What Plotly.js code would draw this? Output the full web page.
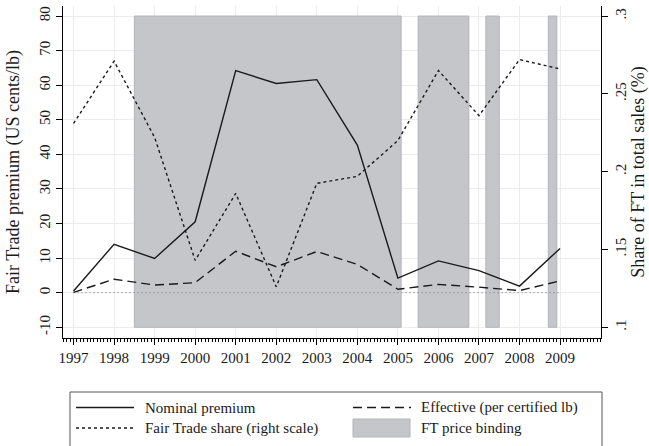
<!DOCTYPE html>
<html>
<head>
<meta charset="utf-8">
<script src="https://cdn.plot.ly/plotly-3.0.1.min.js"></script>
<style>
  html, body { margin: 0; padding: 0; background: #fff; }
  #chart { width: 649px; height: 446px; }
</style>
</head>
<body>
<div id="chart"></div>
<script>
// ---- Data ----
const years = [1997, 1998, 1999, 2000, 2001, 2002, 2003, 2004, 2005, 2006, 2007, 2008, 2009];
const nominalPremium = [0.5, 14.0, 9.9, 20.5, 64.2, 60.5, 61.6, 42.7, 4.2, 9.2, 6.4, 1.9, 12.8];
const effectivePremium = [0.1, 3.9, 2.2, 2.9, 12.0, 7.5, 11.9, 8.2, 1.0, 2.4, 1.6, 0.6, 3.4];
const fairTradeShare = [0.231, 0.271, 0.222, 0.143, 0.186, 0.126, 0.1925, 0.197, 0.220, 0.265, 0.236, 0.272, 0.266];
const bindingStart = [1998.5, 2005.5, 2007.17, 2008.71];
const bindingEnd = [2005.08, 2006.75, 2007.5, 2008.92];
const bindingBand = [-10, 80];
const leftTicks = [-10, 0, 10, 20, 30, 40, 50, 60, 70, 80];
const leftTickLabels = ['-10', '0', '10', '20', '30', '40', '50', '60', '70', '80'];
const rightTicks = [0.1, 0.15, 0.2, 0.25, 0.3];
const rightTickLabels = ['.1', '.15', '.2', '.25', '.3'];
const seriesNames = ['Nominal premium', 'Effective (per certified lb)', 'Fair Trade share (right scale)', 'FT price binding'];

// ---- Scales ----
const leftRange = [-13.1, 82.9];
// right axis: .1 aligns with -10, .3 aligns with 80
const toRight = v => 0.1 + (v + 10) * 0.2 / 90;
const rightRange = leftRange.map(toRight);

// binding rectangles as one filled trace
const bx = [], by = [];
bindingStart.forEach((s, i) => {
  const e = bindingEnd[i];
  bx.push(s, s, e, e, s, null);
  by.push(bindingBand[0], bindingBand[1], bindingBand[1], bindingBand[0], bindingBand[0], null);
});

const ink = '#1a1a1a';
const grayFill = '#c5c6ca';
const grayEdge = '#b3b4b8';
const dashEff = '9px,5px';
const dashShare = '3px,3px';

const traces = [
  { x: bx, y: by, type: 'scatter', mode: 'lines', fill: 'toself', fillcolor: grayFill,
    line: { color: grayEdge, width: 1 }, name: seriesNames[3], hoverinfo: 'skip', showlegend: false },
  { x: [years[0], years[years.length - 1]], y: [0, 0], type: 'scatter', mode: 'lines',
    line: { color: '#8a8a8a', width: 1.2, dash: '1px,3px' }, hoverinfo: 'skip', showlegend: false },
  { x: years, y: nominalPremium, type: 'scatter', mode: 'lines', name: seriesNames[0],
    line: { color: ink, width: 1.4 }, showlegend: false },
  { x: years, y: effectivePremium, type: 'scatter', mode: 'lines', name: seriesNames[1],
    line: { color: ink, width: 1.4, dash: dashEff }, showlegend: false },
  { x: years, y: fairTradeShare, type: 'scatter', mode: 'lines', name: seriesNames[2], yaxis: 'y2',
    line: { color: ink, width: 1.4, dash: dashShare }, showlegend: false }
];

// ---- manual legend (box cut by figure bottom, as in the reference) ----
const P = { l: 63, t: 6, w: 538, h: 332 };
const px = x => (x - P.l) / P.w;
const py = y => (P.t + P.h - y) / P.h;
const row1 = 407.5, row2 = 428;
const shapes = [
  { type: 'rect', xref: 'paper', yref: 'paper', x0: px(70), x1: px(602), y0: py(392), y1: py(490),
    line: { color: '#555', width: 1 }, fillcolor: 'rgba(0,0,0,0)' },
  { type: 'line', xref: 'paper', yref: 'paper', x0: px(76), x1: px(134), y0: py(row1), y1: py(row1),
    line: { color: ink, width: 1.4 } },
  { type: 'line', xref: 'paper', yref: 'paper', x0: px(76), x1: px(134), y0: py(row2), y1: py(row2),
    line: { color: ink, width: 1.4, dash: dashShare } },
  { type: 'line', xref: 'paper', yref: 'paper', x0: px(353), x1: px(411), y0: py(row1), y1: py(row1),
    line: { color: ink, width: 1.4, dash: dashEff } },
  { type: 'rect', xref: 'paper', yref: 'paper', x0: px(353), x1: px(410), y0: py(437), y1: py(419),
    line: { color: grayEdge, width: 1 }, fillcolor: grayFill }
];
const legendText = (txt, x, y) => ({ text: txt, xref: 'paper', yref: 'paper', x: px(x), y: py(y),
  xanchor: 'left', yanchor: 'middle', showarrow: false, font: { size: 15, color: ink } });
const annotations = [
  legendText(seriesNames[0], 143, row1),
  legendText(seriesNames[2], 143, row2),
  legendText(seriesNames[1], 419, row1),
  legendText(seriesNames[3], 419, row2)
];

const layout = {
  width: 649, height: 446,
  margin: { l: P.l, r: 649 - P.l - P.w, t: P.t, b: 446 - P.t - P.h, pad: 0 },
  paper_bgcolor: '#fff', plot_bgcolor: '#fff',
  font: { family: 'Liberation Serif, Times New Roman, serif', size: 15, color: ink },
  showlegend: false,
  xaxis: {
    range: [1996.74, 2010.01], tickmode: 'array', tickvals: years,
    ticks: 'outside', ticklen: 6, tickwidth: 1, tickcolor: '#000',
    showline: true, linecolor: '#000', linewidth: 1,
    showgrid: true, gridcolor: '#ececec', gridwidth: 1, zeroline: false,
    minor: { tickmode: 'linear', tick0: 1997, dtick: 1 / 12, ticks: 'outside', ticklen: 3, tickwidth: 1, tickcolor: '#000', showgrid: false },
    tickfont: { size: 15 }
  },
  yaxis: {
    range: leftRange, tickmode: 'array', tickvals: leftTicks, ticktext: leftTickLabels,
    tickangle: -90, ticks: 'outside', ticklen: 6, tickwidth: 1, tickcolor: '#000',
    showline: true, linecolor: '#000', linewidth: 1,
    showgrid: true, gridcolor: '#ececec', gridwidth: 1, zeroline: false,
    tickfont: { size: 15 },
    title: { text: 'Fair Trade premium (US cents/lb)', font: { size: 18 }, standoff: 12 }
  },
  yaxis2: {
    overlaying: 'y', side: 'right', anchor: 'x',
    range: rightRange, tickmode: 'array', tickvals: rightTicks, ticktext: rightTickLabels,
    tickangle: -90, ticks: 'outside', ticklen: 6, tickwidth: 1, tickcolor: '#000',
    showline: true, linecolor: '#000', linewidth: 1,
    showgrid: false, zeroline: false,
    tickfont: { size: 15 },
    title: { text: 'Share of FT in total sales (%)', font: { size: 18 }, standoff: 10 }
  },
  shapes: shapes,
  annotations: annotations
};

Plotly.newPlot('chart', traces, layout, { displayModeBar: false, staticPlot: true });
</script>
</body>
</html>
